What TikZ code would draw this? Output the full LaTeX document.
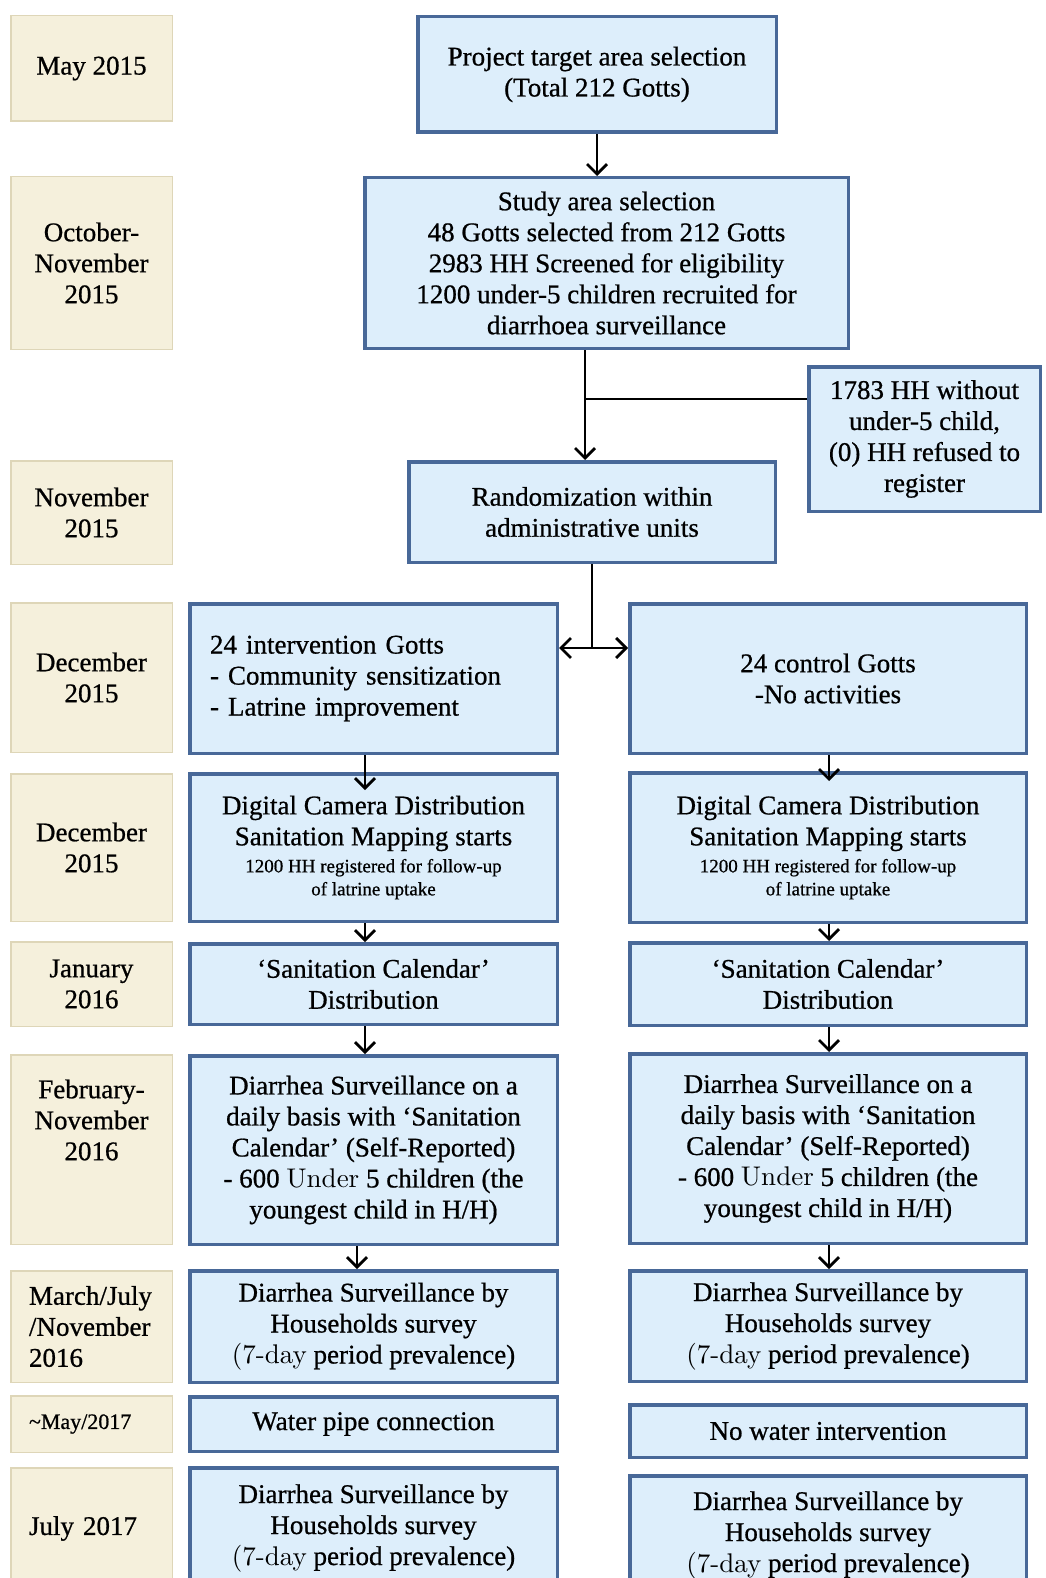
\documentclass[tikz,border=0pt]{standalone}
\usepackage{fontspec}
\setmainfont[FakeBold=0.7]{Liberation Serif}
\newfontfamily\thinf{lmroman10-regular.otf}
\usetikzlibrary{arrows.meta}
\definecolor{boxblue}{RGB}{72,104,152}
\definecolor{boxfill}{RGB}{221,238,251}
\definecolor{datefill}{RGB}{245,240,220}
\definecolor{dateline}{RGB}{222,214,184}
\newcommand\bigf{\fontsize{27}{31}\selectfont}
\newcommand\smallf{\fontsize{19}{23}\selectfont}
\newcommand\maydf{\fontsize{22}{26}\selectfont}
\begin{document}
\begin{tikzpicture}[x=1pt,y=-1pt,
  bluebox/.style={draw=boxblue, line width=3.5pt, fill=boxfill, align=center, inner sep=0pt, font=\bigf},
  lcol/.style={bluebox, minimum width=367.5pt},
  rcol/.style={bluebox, minimum width=396.5pt},
  datebox/.style={draw=dateline, line width=1.5pt, fill=datefill, align=center, inner sep=0pt, minimum width=161.5pt, font=\bigf},
  dateleft/.style={datebox, text width=125pt, align=left},
  conn/.style={line width=2.8pt, black},
  arr/.style={conn, -{Straight Barb[length=10pt,width=20pt]}},
  dblarr/.style={conn, {Straight Barb[length=10pt,width=20pt]}-{Straight Barb[length=10pt,width=20pt]}},
]
\useasboundingbox (0,0) rectangle (1045,1578);

% ---- date column ----
\node[datebox, minimum height=105.5pt] (d1) at (91.5,68.5) {May 2015};
\node[datebox, minimum height=172.5pt] (d2) at (91.5,263) {October-\\November\\2015};
\node[datebox, minimum height=103.5pt] (d3) at (91.5,512.5) {November\\2015};
\node[datebox, minimum height=149.5pt] (d4) at (91.5,677.5) {December\\2015};
\node[datebox, minimum height=147.5pt] (d5) at (91.5,847.5) {December\\2015};
\node[datebox, minimum height=84.5pt] (d6) at (91.5,984) {January\\2016};
\node[datebox, minimum height=189.5pt] (d7) at (91.5,1149.5) {};
\node[font=\bigf, align=center, inner sep=0pt] (d7t) at (91.5,1120) {February-\\November\\2016};
\node[dateleft, minimum height=111.5pt] (d8) at (91.5,1326.5) {March/July\\/November\\2016};
\node[dateleft, minimum height=56.5pt, font=\maydf] (d9) at (91.5,1424) {\textasciitilde May/2017};
\node[dateleft, minimum height=121.5pt] (d10) at (91.5,1528.5) {July 2017};

% ---- top flow ----
\node[bluebox, minimum width=358.5pt, minimum height=115.5pt] (project) at (597,74.5)
  {Project target area selection\\(Total 212 Gotts)};
\node[bluebox, minimum width=483.5pt, minimum height=170.5pt] (study) at (606.5,263)
  {Study area selection\\48 Gotts selected from 212 Gotts\\2983 HH Screened for eligibility\\1200 under-5 children recruited for\\diarrhoea surveillance};
\node[bluebox, minimum width=231.5pt, minimum height=144.5pt] (side) at (924.5,439)
  {1783 HH without\\under-5 child,\\(0) HH refused to\\register};
\node[bluebox, minimum width=366.5pt, minimum height=100.5pt] (random) at (592,512)
  {Randomization within\\administrative units};

% ---- left arm ----
\node[lcol, minimum height=149.5pt, text width=327pt, align=left] (interv) at (373.5,678.5)
  {24 intervention Gotts\\- Community sensitization\\- Latrine improvement};
\node[lcol, minimum height=147.5pt] (digL) at (373.5,847.5)
  {Digital Camera Distribution\\Sanitation Mapping starts\\[-4pt]\smallf 1200 HH registered for follow-up\\[-8pt]\smallf of latrine uptake};
\node[lcol, minimum height=80.5pt] (calL) at (373.5,984)
  {‘Sanitation Calendar’\\Distribution};
\node[lcol, minimum height=188.5pt] (diarL) at (373.5,1150)
  {Diarrhea Surveillance on a\\daily basis with ‘Sanitation\\Calendar’ (Self-Reported)\\- 600 {\thinf Under} 5 children (the\\youngest child in H/H)};
\node[lcol, minimum height=111.5pt] (hhL) at (373.5,1326.5)
  {Diarrhea Surveillance by\\Households survey\\{\thinf (7-day} period prevalence)};
\node[lcol, minimum height=54.5pt] (waterL) at (373.5,1424)
  {Water pipe connection};
\node[lcol, minimum height=120.5pt] (hh2L) at (373.5,1528)
  {Diarrhea Surveillance by\\Households survey\\{\thinf (7-day} period prevalence)};

% ---- right arm ----
\node[rcol, minimum height=149.5pt] (control) at (828,678.5)
  {24 control Gotts\\-No activities};
\node[rcol, minimum height=149.5pt] (digR) at (828,847.5)
  {Digital Camera Distribution\\Sanitation Mapping starts\\[-4pt]\smallf 1200 HH registered for follow-up\\[-8pt]\smallf of latrine uptake};
\node[rcol, minimum height=82.5pt] (calR) at (828,984)
  {‘Sanitation Calendar’\\Distribution};
\node[rcol, minimum height=189.5pt] (diarR) at (828,1148.5)
  {Diarrhea Surveillance on a\\daily basis with ‘Sanitation\\Calendar’ (Self-Reported)\\- 600 {\thinf Under} 5 children (the\\youngest child in H/H)};
\node[rcol, minimum height=110.5pt] (hhR) at (828,1326)
  {Diarrhea Surveillance by\\Households survey\\{\thinf (7-day} period prevalence)};
\node[rcol, minimum height=52.5pt] (waterR) at (828,1431)
  {No water intervention};
\node[rcol, minimum height=118.5pt] (hh2R) at (828,1535)
  {Diarrhea Surveillance by\\Households survey\\{\thinf (7-day} period prevalence)};

% ---- connectors ----
\draw[arr] (project.south) -- (project.south |- study.north);
\coordinate (j1) at (585,399);
\draw[arr] (study.south -| j1) -- (random.north -| j1);
\draw[conn] (j1) -- (j1 -| side.west);
\coordinate (j2) at (592,648);
\draw[conn] (random.south -| j2) -- (j2);
\draw[dblarr] (interv.east |- j2) -- (control.west |- j2);

\coordinate (cl) at (365,0);
\coordinate (cl2) at (357,0);
\coordinate (cr) at (829,0);
\draw[arr] (interv.south -| cl) -- ([yshift=-18pt]digL.north -| cl);
\draw[arr] (digL.south -| cl) -- (calL.north -| cl);
\draw[arr] (calL.south -| cl) -- (diarL.north -| cl);
\draw[arr] (diarL.south -| cl2) -- (hhL.north -| cl2);
\draw[arr] (control.south -| cr) -- ([yshift=-10pt]digR.north -| cr);
\draw[arr] (digR.south -| cr) -- (calR.north -| cr);
\draw[arr] (calR.south -| cr) -- (diarR.north -| cr);
\draw[arr] (diarR.south -| cr) -- (hhR.north -| cr);
\end{tikzpicture}
\end{document}
